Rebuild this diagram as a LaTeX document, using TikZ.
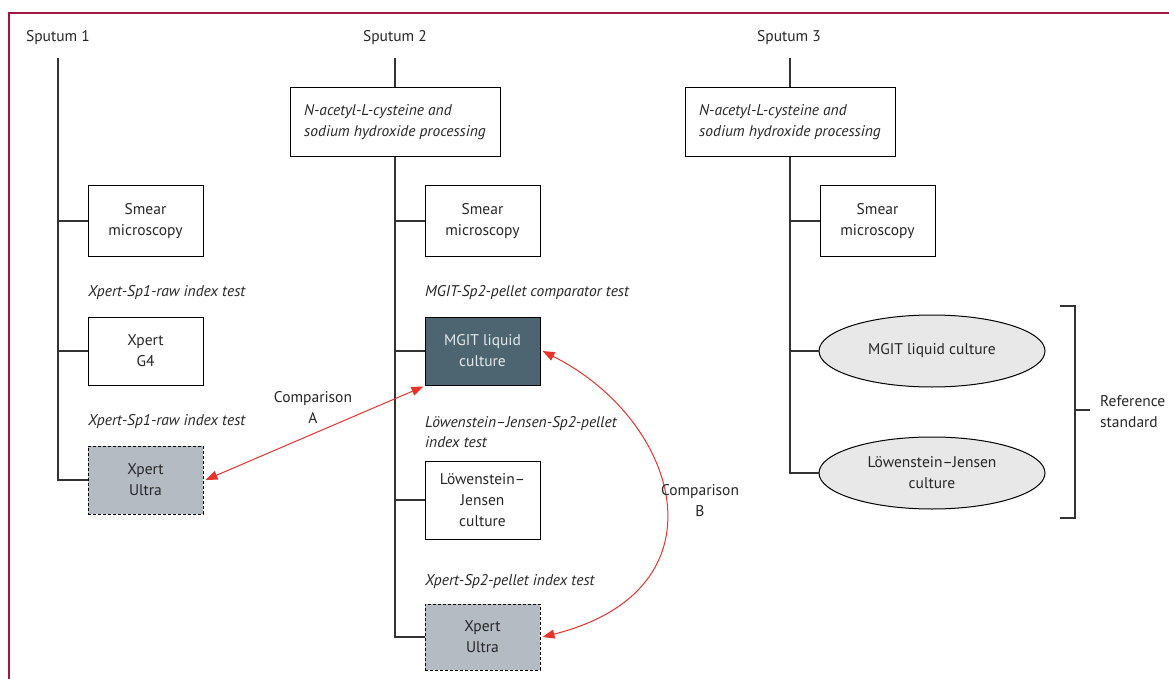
\documentclass[tikz,border=0pt]{standalone}
\usepackage{fontspec}
\setmainfont{PT Sans}
\usetikzlibrary{arrows.meta,shapes.geometric}
\definecolor{frame}{HTML}{A3163F}
\definecolor{conncol}{HTML}{333333}
\definecolor{slate}{HTML}{4D6570}
\definecolor{slatetext}{HTML}{E4EAEC}
\definecolor{ultragray}{HTML}{B4BBC2}
\definecolor{ellgray}{HTML}{E8E8E8}
\definecolor{cmpred}{HTML}{E8322B}
\tikzset{
  txt/.style={font=\fontsize{15.5}{21}\selectfont, text=black!85, inner sep=0pt},
  itl/.style={font=\fontsize{15.5}{20}\selectfont\itshape, text=black!85, inner sep=0pt, anchor=west, align=left},
  testbox/.style={draw=black, line width=1pt, align=center, font=\fontsize{15.5}{21}\selectfont, text=black!85, minimum width=115pt, inner sep=0pt},
  procbox/.style={testbox, minimum width=210pt, minimum height=69pt, font=\fontsize{15.5}{21}\selectfont\itshape, align=left},
  ultrabox/.style={testbox, fill=ultragray, dashed, dash pattern=on 3pt off 2pt},
  darkbox/.style={testbox, fill=slate, text=slatetext},
  ellnode/.style={ellipse, draw=black, line width=1pt, fill=ellgray, minimum width=226pt, minimum height=72pt, inner sep=0pt, align=center, font=\fontsize{15.5}{21}\selectfont, text=black!85},
  conn/.style={draw=conncol, line width=1.2pt},
  cmp/.style={draw=cmpred, line width=1pt, {Triangle[length=12pt,width=9pt]}-{Triangle[length=12pt,width=9pt]}}
}
\begin{document}
\begin{tikzpicture}[x=1pt,y=-1pt]
\useasboundingbox (0,0) rectangle (1169,679);
% frame
\draw[frame, line width=1.4pt] (9,679) -- (9,13) -- (1169,13);

% Sputum labels
\node[txt] (lab1) at (58,38) {Sputum 1};
\node[txt] (lab2) at (395,38) {Sputum 2};
\node[txt] (lab3) at (789,38) {Sputum 3};
\coordinate (t1) at (58,58);
\coordinate (t2) at (395,58);
\coordinate (t3) at (790,58);

% Sputum 1 column
\node[testbox, minimum height=70pt] (sm1) at (145.5,221) {Smear\\microscopy};
\node[itl] (l1a) at (88,293) {Xpert-Sp1-raw index test};
\node[testbox, minimum height=68pt] (g4) at (145.5,351) {Xpert\\G4};
\node[itl] (l1b) at (88,422) {Xpert-Sp1-raw index test};
\node[ultrabox, minimum height=68pt] (u1) at (145.5,480) {Xpert\\Ultra};

\draw[conn] (t1) |- (u1.west);
\draw[conn] (t1 |- sm1.west) -- (sm1.west);
\draw[conn] (t1 |- g4.west) -- (g4.west);

% Sputum 2 column
\node[procbox] (p2) at (395,122.5) {N-acetyl-L-cysteine and\\sodium hydroxide processing};
\node[testbox, minimum height=70pt] (sm2) at (482.5,221) {Smear\\microscopy};
\node[itl] (l2a) at (425,293) {MGIT-Sp2-pellet comparator test};
\node[darkbox, minimum height=68pt] (mg2) at (482.5,351) {MGIT liquid\\culture};
\node[itl] (l2b) at (425,432) {Löwenstein–Jensen-Sp2-pellet\\index test};
\node[testbox, minimum height=78pt] (lj2) at (482.5,500) {Löwenstein–\\Jensen\\culture};
\node[itl] (l2c) at (425,582) {Xpert-Sp2-pellet index test};
\node[ultrabox, minimum height=66pt] (u2) at (482.5,637) {Xpert\\Ultra};

\draw[conn] (t2) -- (p2.north);
\draw[conn] (p2.south) |- (u2.west);
\draw[conn] (p2.south |- sm2.west) -- (sm2.west);
\draw[conn] (p2.south |- mg2.west) -- (mg2.west);
\draw[conn] (p2.south |- lj2.west) -- (lj2.west);

% Sputum 3 column
\node[procbox] (p3) at (790,122.5) {N-acetyl-L-cysteine and\\sodium hydroxide processing};
\node[testbox, minimum height=70pt] (sm3) at (877.5,221) {Smear\\microscopy};
\node[ellnode] (e1) at (932,351) {MGIT liquid culture};
\node[ellnode] (e2) at (932,473) {Löwenstein–Jensen\\culture};

\draw[conn] (t3) -- (p3.north);
\draw[conn] (p3.south) |- (e2.west);
\draw[conn] (p3.south |- sm3.west) -- (sm3.west);
\draw[conn] (p3.south |- e1.west) -- (e1.west);

% bracket
\coordinate (bt) at (1060,306);
\coordinate (bb) at (1060,518);
\draw[conn] (bt) -- (1075,306) -- (1075,518) -- (bb);
\coordinate (bm) at (1075,410);
\node[txt, anchor=west, align=left] (refstd) at (1100,412) {Reference\\standard};
\draw[conn] (bm) -- (1090,410);

% comparisons
\draw[cmp] ([xshift=2pt]u1.east) -- ([xshift=-1pt,yshift=-1pt]mg2.south west);
\node[txt, align=center] (ca) at (313,407) {Comparison\\A};
\draw[cmp] ([xshift=2pt]mg2.east) .. controls (680,420) and (730,590) .. ([xshift=2pt]u2.east);
\node[txt, align=center] (cb) at (700,501) {Comparison\\B};
\end{tikzpicture}
\end{document}
